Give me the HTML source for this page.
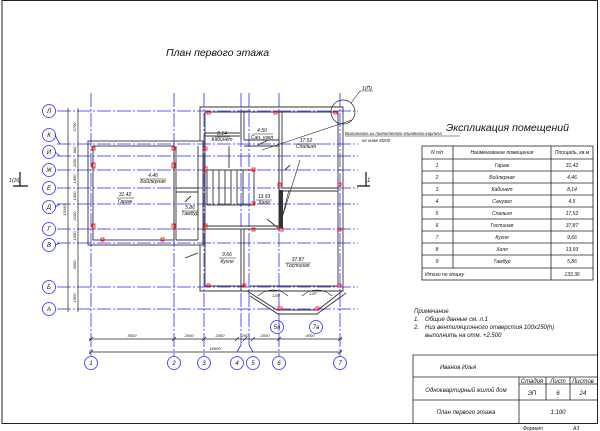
<!DOCTYPE html>
<html><head><meta charset="utf-8"><style>
html,body{margin:0;padding:0;background:#fff}
svg{display:block}
text{font-family:"Liberation Sans",sans-serif;font-style:italic;fill:#111}
.b{stroke:#2a2aff;stroke-width:0.8;fill:none}
.ax{stroke:#2a2aff;stroke-width:0.8;stroke-dasharray:14 2 2 2;fill:none}
.w{stroke:#333;stroke-width:0.9;fill:none}
.bt{fill:#2a2aff;font-style:normal;font-size:6px}
.r{fill:none;stroke:#f00;stroke-width:0.8}
.t{stroke:#222;stroke-width:0.8;fill:none}
</style></head><body>
<svg width="600" height="431" viewBox="0 0 600 431" xmlns="http://www.w3.org/2000/svg">
<rect x="2" y="0.5" width="595.5" height="423" fill="none" stroke="#222" stroke-width="1"/>
<text x="166" y="56" font-size="10.5">План первого этажа</text>

<g>
<line class="ax" x1="57" y1="111" x2="358" y2="111"/>
<line class="ax" x1="57" y1="144" x2="358" y2="144"/>
<line class="ax" x1="57" y1="156" x2="358" y2="156"/>
<line class="ax" x1="57" y1="170" x2="358" y2="170"/>
<line class="ax" x1="57" y1="188" x2="358" y2="188"/>
<line class="ax" x1="57" y1="204" x2="358" y2="204"/>
<line class="ax" x1="57" y1="229" x2="358" y2="229"/>
<line class="ax" x1="57" y1="243" x2="358" y2="243"/>
<line class="ax" x1="57" y1="287" x2="358" y2="287"/>
<line class="ax" x1="57" y1="309" x2="358" y2="309"/>
</g>
<g class="b">
<circle cx="49" cy="111" r="6.5"/><circle cx="49" cy="135" r="6.5"/><circle cx="49" cy="152" r="6.5"/>
<circle cx="49" cy="170" r="6.5"/><circle cx="49" cy="188" r="6.5"/><circle cx="49" cy="207" r="6.5"/>
<circle cx="49" cy="229" r="6.5"/><circle cx="49" cy="245" r="6.5"/><circle cx="49" cy="287" r="6.5"/>
<circle cx="49" cy="309" r="6.5"/>
<path d="M55 135 L60 144 M55 152 L60 156 M55 207 L60 204 M55 245 L60 243"/>
</g>
<g class="bt" text-anchor="middle">
<text x="49" y="113">Л</text><text x="49" y="137">К</text><text x="49" y="154">И</text><text x="49" y="172">Ж</text>
<text x="49" y="190">Е</text><text x="49" y="209">Д</text><text x="49" y="231">Г</text><text x="49" y="247">В</text>
<text x="49" y="289">Б</text><text x="49" y="311">А</text>
</g>

<g>
<line class="ax" x1="91" y1="93" x2="91" y2="356"/>
<line class="ax" x1="174" y1="93" x2="174" y2="356"/>
<line class="ax" x1="204" y1="93" x2="204" y2="356"/>
<line class="ax" x1="241" y1="93" x2="241" y2="345"/>
<line class="ax" x1="249" y1="93" x2="249" y2="345"/>
<line class="ax" x1="279" y1="93" x2="279" y2="356"/>
<line class="ax" x1="340" y1="93" x2="340" y2="356"/>
</g>
<g class="b">
<path d="M241 345 L237 352 M249 345 L253 352"/>
<circle cx="91" cy="363" r="6.5"/><circle cx="174" cy="363" r="6.5"/><circle cx="204" cy="363" r="6.5"/>
<circle cx="237" cy="363" r="6.5"/><circle cx="253" cy="363" r="6.5"/><circle cx="279" cy="363" r="6.5"/>
<circle cx="340" cy="363" r="6.5"/>
<circle cx="277" cy="327" r="6.5"/><circle cx="316" cy="327" r="6.5"/>
</g>
<g class="bt" text-anchor="middle">
<text x="91" y="365">1</text><text x="174" y="365">2</text><text x="204" y="365">3</text><text x="237" y="365">4</text>
<text x="253" y="365">5</text><text x="279" y="365">6</text><text x="340" y="365">7</text>
<text x="277" y="329">5а</text><text x="316" y="329">7а</text>
</g>

<g stroke="#222" stroke-width="0.7">
<line x1="89" y1="339" x2="342" y2="339"/>
<line x1="89" y1="352" x2="342" y2="352"/>
<path d="M89 341 L93 337 M172 341 L176 337 M202 341 L206 337 M235 341 L239 337 M243 341 L247 337 M251 341 L255 337 M277 341 L281 337 M338 341 L342 337 M89 354 L93 350 M338 354 L342 350"/>
<line x1="68" y1="108" x2="68" y2="312"/>
<line x1="78" y1="108" x2="78" y2="312"/>
</g>
<g font-size="4" font-style="normal" text-anchor="middle">
<text x="132" y="337">5500</text><text x="189" y="337">2000</text><text x="220" y="337">2450</text><text x="245" y="337">250</text>
<text x="265" y="337">2000</text><text x="310" y="337">4000</text><text x="215" y="350">16500</text>
<text transform="translate(66,210) rotate(-90)">15150</text>
<text transform="translate(76,127) rotate(-90)">2700</text>
<text transform="translate(76,150) rotate(-90)">900</text>
<text transform="translate(76,163) rotate(-90)">1150</text>
<text transform="translate(76,179) rotate(-90)">1450</text>
<text transform="translate(76,196) rotate(-90)">1300</text>
<text transform="translate(76,216) rotate(-90)">2100</text>
<text transform="translate(76,236) rotate(-90)">1050</text>
<text transform="translate(76,265) rotate(-90)">3000</text>
<text transform="translate(76,298) rotate(-90)">1500</text>
</g>

<g class="w">
<rect x="88" y="141" width="115" height="104"/>
<rect x="93" y="146" width="81" height="94"/>
<path d="M176 146 V240 M176 188 H198 M176 192 H198 M198 146 V240 M176 240 H198"/>
<path d="M200 141 V107 H343 V291 H247 L277 310 H318 L342 291"/>
<path d="M205 112 H338 V286 H250 M205 112 V286 H245"/>
<path d="M200 245 V291 H247 M250 296 L278 314 H317 L346 293"/>
<path d="M241 112 V140 M244 112 V140 M244 140 H279 M244 146 H279 M279 112 V229 M282 112 V188 M282 188 H338 M282 191 H338"/>
<rect x="207" y="170" width="47" height="35"/>
<path d="M213 170 V205 M219 170 V205 M225 170 V205 M231 170 V205 M237 170 V205 M243 170 V205"/>
<path d="M205 226 H279 M205 229 H279 M241 229 V291 M244 229 V286"/>
<path d="M258 145 L268 140 M205 136 L240 136 M205 133 L240 133 M185 202 L191 196 M229 146 L229 168 M285 170 L290 165 M267 219 L278 228 M198 253 L185 258"/>
</g>
<rect x="279" y="190" width="4" height="38" fill="#333"/>
<path d="M289 190 L282 218 L300 160 M262 150 L352 120" stroke="#222" stroke-width="0.6" fill="none"/>
<path d="M258 296 A22 22 0 0 1 288 296 M302 296 A22 22 0 0 1 332 296" stroke="#222" stroke-width="0.6" fill="none"/>
<text x="272" y="297" font-size="4" font-style="normal">135°</text>
<text x="309" y="295" font-size="4" font-style="normal">135°</text>
<g class="r">
<rect x="207" y="111" width="3" height="3"/><rect x="274" y="111" width="3" height="3"/><rect x="334" y="111" width="3" height="3"/>
<rect x="92" y="147" width="3" height="3"/><rect x="204" y="147" width="3" height="3"/><rect x="172" y="147" width="3" height="3"/>
<rect x="92" y="163" width="3" height="5"/><rect x="172" y="163" width="3" height="5"/><rect x="204" y="167" width="3" height="5"/>
<rect x="252" y="168" width="3" height="3"/><rect x="252" y="202" width="3" height="3"/><rect x="278" y="183" width="3" height="3"/>
<rect x="338" y="183" width="3" height="3"/><rect x="92" y="224" width="3" height="5"/><rect x="172" y="224" width="3" height="5"/>
<rect x="204" y="224" width="3" height="5"/><rect x="252" y="228" width="3" height="3"/><rect x="279" y="228" width="4" height="3"/>
<rect x="338" y="228" width="3" height="3"/><rect x="101" y="238" width="3" height="3"/><rect x="161" y="238" width="3" height="3"/>
<rect x="207" y="284" width="3" height="3"/><rect x="243" y="284" width="3" height="3"/><rect x="338" y="284" width="3" height="3"/>
<rect x="278" y="307" width="4" height="3"/><rect x="316" y="307" width="3" height="3"/>
</g>

<g font-size="5" text-anchor="middle">
<text x="222" y="135">8.14</text><text x="222" y="141">Кабинет</text>
<text x="262" y="132">4.50</text><text x="262" y="139">Сан. узел</text>
<text x="306" y="142">17.52</text><text x="306" y="148">Спальня</text>
<text x="153" y="177">4.46</text><text x="153" y="183">Бойлерная</text>
<text x="125" y="196">31.42</text><text x="125" y="203">Гараж</text>
<text x="190" y="209">5.86</text><text x="190" y="215">Тамбур</text>
<text x="264" y="198">13.93</text><text x="264" y="204">Холл</text>
<text x="227" y="256">9.66</text><text x="227" y="263">Кухня</text>
<text x="298" y="261">37.87</text><text x="298" y="267">Гостиная</text>
</g>
<g stroke="#222" stroke-width="0.5">
<path d="M215 137 H230 M252 134 H273 M294 144 H318 M140 179 H166 M117 198 H134 M182 211 H198 M256 200 H272 M219 258 H236 M285 263 H311"/>
</g>

<g stroke="#111" stroke-width="1.2" fill="none">
<path d="M20 172 V186 M13 186 H28 M366 172 V186 M357 186 H370"/>
</g>
<text x="9" y="182" font-size="5" font-style="normal">1(1б)</text>
<text x="367" y="182" font-size="6" font-style="normal">1</text>
<circle cx="343" cy="112" r="12" fill="none" stroke="#222" stroke-width="0.7"/>
<path d="M351 103 L360 91 H373" stroke="#222" stroke-width="0.6" fill="none"/>
<text x="362" y="90" font-size="5" font-style="normal">1(П)</text>
<text x="345" y="135" font-size="4.3">Выполнить из полнотелого глиняного кирпича</text>
<line x1="345" y1="136" x2="460" y2="136" stroke="#222" stroke-width="0.5"/>
<text x="362" y="142" font-size="4.3" font-style="normal">не ниже М200</text>

<text x="446" y="131" font-size="10.5">Экспликация помещений</text>
<g class="t">
<rect x="422" y="146" width="171" height="134"/>
<path d="M453 146 V268 M551 146 V280 M422 159 H593 M422 171 H593 M422 183 H593 M422 195 H593 M422 207 H593 M422 219 H593 M422 231 H593 M422 243 H593 M422 255 H593 M422 268 H593"/>
</g>
<g font-size="5" text-anchor="middle">
<text x="437" y="154">N п/п</text><text x="502" y="154">Наименование помещения</text><text x="572" y="154">Площадь, кв.м</text>
<text x="437" y="167">1</text><text x="502" y="167">Гараж</text><text x="572" y="167">31,42</text>
<text x="437" y="179">2</text><text x="502" y="179">Бойлерная</text><text x="572" y="179">4,46</text>
<text x="437" y="191">3</text><text x="502" y="191">Кабинет</text><text x="572" y="191">8,14</text>
<text x="437" y="203">4</text><text x="502" y="203">Санузел</text><text x="572" y="203">4,5</text>
<text x="437" y="215">5</text><text x="502" y="215">Спальня</text><text x="572" y="215">17,52</text>
<text x="437" y="227">6</text><text x="502" y="227">Гостиная</text><text x="572" y="227">37,87</text>
<text x="437" y="239">7</text><text x="502" y="239">Кухня</text><text x="572" y="239">9,66</text>
<text x="437" y="251">8</text><text x="502" y="251">Холл</text><text x="572" y="251">13,93</text>
<text x="437" y="263">9</text><text x="502" y="263">Тамбур</text><text x="572" y="263">5,86</text>
<text x="572" y="276">133,36</text>
</g>
<text x="425" y="276" font-size="5">Итого по этажу</text>

<g font-size="6">
<text x="414" y="313">Примечание</text>
<text x="414" y="321">1.</text><text x="425" y="321">Общие данные см. л.1</text>
<text x="414" y="329">2.</text><text x="425" y="329">Низ вентиляционного отверстия 100х250(h)</text>
<text x="425" y="337">выполнить на отм. +2.500</text>
</g>

<g class="t">
<path d="M413 423 V355 H597 M413 377 H597 M413 400 H597 M519 377 V423 M519 384 H597 M546 377 V400 M570 377 V400"/>
</g>
<g font-size="6" text-anchor="middle">
<text x="458" y="369">Иванов Илья</text>
<text x="466" y="392">Одноквартирный жилой дом</text>
<text x="532" y="383">Стадия</text><text x="558" y="383">Лист</text><text x="583" y="383">Листов</text>
<text x="532" y="395">ЭП</text><text x="558" y="395">6</text><text x="583" y="395">24</text>
<text x="466" y="414">План первого этажа</text>
<text x="558" y="414">1:100</text>
</g>
<text x="523" y="430" font-size="5" font-style="normal">Формат</text>
<text x="573" y="430" font-size="5" font-style="normal">А3</text>
</svg>
</body></html>
